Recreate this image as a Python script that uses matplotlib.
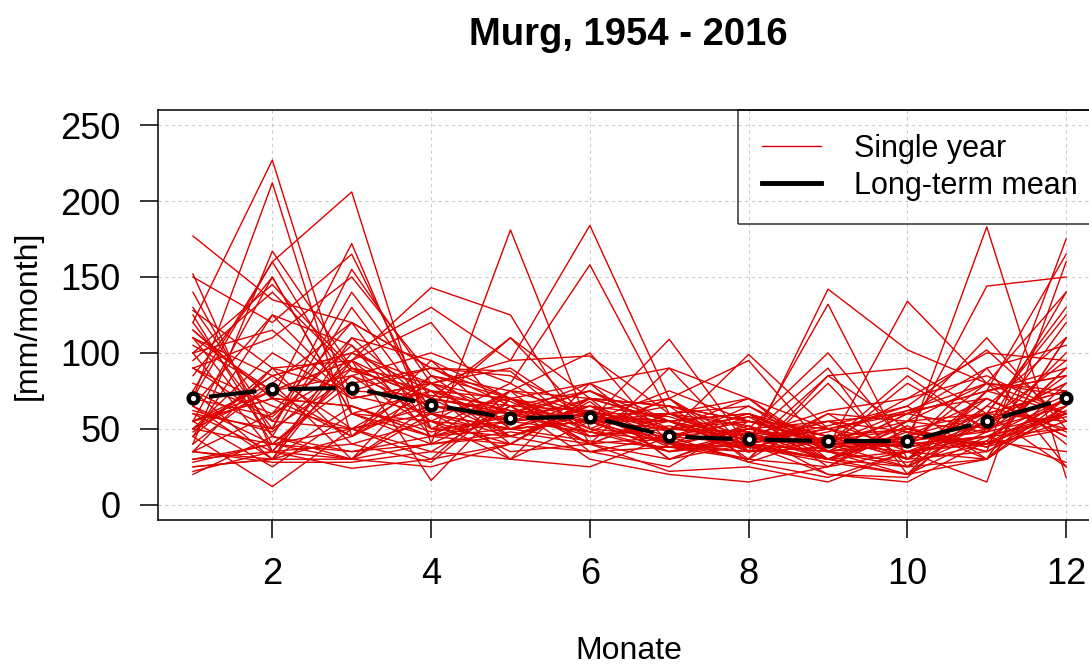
import numpy as np
import matplotlib.pyplot as plt
from matplotlib.lines import Line2D

# monthly precipitation at the Murg gauge, mm/month, one row per year (Jan..Dec)
months = np.arange(1, 13)
years = list(range(1954, 2017))
precip = [
    [62, 48, 95, 70, 45, 60, 38, 52, 30, 25, 48, 85],
    [120, 227, 60, 45, 50, 70, 55, 40, 35, 28, 40, 62],
    [45, 12, 50, 80, 60, 48, 70, 35, 42, 50, 38, 55],
    [35, 90, 40, 55, 40, 35, 45, 60, 45, 30, 55, 68],
    [95, 140, 88, 75, 62, 55, 40, 38, 48, 65, 30, 110],
    [152, 35, 30, 60, 35, 40, 22, 25, 15, 35, 42, 90],
    [55, 70, 65, 48, 58, 75, 50, 45, 40, 62, 70, 48],
    [70, 212, 45, 85, 50, 65, 42, 30, 25, 55, 60, 75],
    [80, 60, 120, 90, 70, 48, 35, 40, 30, 20, 45, 58],
    [25, 30, 110, 65, 55, 60, 40, 58, 45, 38, 90, 25],
    [30, 40, 85, 50, 45, 35, 38, 30, 60, 55, 48, 60],
    [110, 85, 100, 130, 95, 98, 60, 45, 90, 20, 75, 165],
    [65, 125, 72, 60, 50, 55, 75, 55, 42, 70, 100, 95],
    [75, 160, 206, 40, 181, 50, 35, 42, 55, 48, 38, 70],
    [128, 90, 75, 72, 65, 62, 48, 99, 50, 30, 35, 60],
    [50, 100, 70, 80, 68, 45, 52, 40, 20, 18, 65, 50],
    [90, 110, 150, 85, 75, 70, 55, 35, 38, 40, 80, 72],
    [22, 35, 24, 30, 40, 68, 30, 48, 20, 15, 42, 35],
    [28, 40, 30, 40, 48, 40, 60, 38, 30, 35, 45, 28],
    [55, 80, 30, 85, 70, 50, 45, 28, 45, 50, 60, 55],
    [85, 150, 60, 40, 45, 62, 40, 50, 38, 134, 80, 140],
    [140, 45, 130, 60, 50, 42, 38, 35, 60, 30, 70, 45],
    [90, 65, 50, 35, 30, 25, 45, 40, 55, 60, 75, 90],
    [100, 145, 90, 70, 62, 58, 55, 60, 25, 35, 55, 80],
    [60, 50, 155, 80, 90, 55, 60, 42, 40, 25, 30, 110],
    [48, 85, 100, 75, 55, 60, 40, 38, 30, 45, 144, 150],
    [70, 58, 105, 45, 60, 80, 90, 35, 38, 80, 50, 72],
    [115, 70, 172, 50, 55, 70, 65, 30, 85, 90, 60, 130],
    [100, 35, 90, 70, 60, 65, 50, 48, 40, 85, 48, 120],
    [105, 75, 95, 143, 125, 40, 30, 50, 55, 35, 30, 65],
    [90, 55, 50, 65, 110, 55, 35, 45, 62, 70, 85, 60],
    [50, 40, 80, 90, 65, 75, 48, 38, 28, 20, 60, 75],
    [65, 30, 95, 120, 55, 48, 42, 65, 40, 42, 48, 100],
    [55, 75, 85, 100, 80, 158, 60, 52, 35, 40, 45, 50],
    [150, 120, 165, 60, 45, 62, 50, 55, 42, 38, 50, 65],
    [25, 30, 45, 95, 50, 55, 35, 48, 30, 52, 30, 70],
    [40, 167, 90, 55, 30, 80, 38, 42, 50, 60, 75, 60],
    [75, 30, 65, 45, 40, 70, 55, 35, 45, 30, 65, 110],
    [35, 60, 90, 80, 45, 65, 58, 42, 52, 65, 102, 55],
    [65, 40, 50, 60, 50, 55, 109, 38, 85, 50, 35, 175],
    [130, 55, 110, 95, 70, 40, 45, 50, 100, 38, 45, 70],
    [177, 135, 120, 50, 75, 100, 40, 30, 80, 25, 55, 80],
    [30, 35, 40, 28, 70, 60, 55, 60, 40, 45, 70, 45],
    [20, 45, 35, 45, 55, 62, 70, 28, 18, 35, 40, 90],
    [55, 25, 60, 75, 30, 55, 40, 35, 142, 102, 80, 60],
    [70, 160, 75, 90, 85, 60, 45, 55, 50, 40, 60, 125],
    [45, 125, 105, 60, 70, 55, 65, 50, 42, 55, 110, 50],
    [75, 50, 140, 70, 60, 45, 55, 40, 132, 30, 55, 95],
    [55, 150, 60, 55, 80, 50, 70, 95, 35, 60, 90, 105],
    [125, 40, 35, 40, 65, 30, 20, 15, 25, 50, 40, 70],
    [120, 50, 85, 65, 60, 55, 50, 70, 30, 48, 35, 65],
    [50, 75, 45, 75, 70, 40, 60, 65, 35, 20, 30, 80],
    [40, 80, 120, 90, 88, 45, 50, 58, 30, 45, 40, 60],
    [110, 75, 95, 16, 70, 80, 55, 60, 35, 25, 75, 85],
    [60, 35, 100, 80, 40, 70, 65, 55, 45, 40, 45, 60],
    [45, 90, 95, 55, 50, 55, 55, 45, 30, 55, 80, 75],
    [50, 85, 50, 30, 75, 60, 60, 70, 50, 30, 75, 85],
    [35, 30, 30, 25, 40, 70, 65, 55, 40, 35, 15, 160],
    [110, 45, 30, 65, 60, 75, 55, 40, 35, 60, 50, 140],
    [55, 70, 45, 70, 110, 70, 30, 40, 50, 62, 80, 40],
    [35, 28, 28, 35, 65, 40, 90, 70, 35, 45, 40, 50],
    [115, 70, 65, 45, 75, 35, 25, 55, 40, 40, 183, 18],
    [100, 115, 70, 80, 95, 184, 70, 40, 30, 45, 60, 25],
]
long_term_mean = [70, 76, 77, 66, 57, 58, 45, 43, 42, 42, 55, 70]

plt.rcParams["font.family"] = "Liberation Sans"

fig = plt.figure(figsize=(10.89, 6.68), dpi=100)
ax = fig.add_axes([0.1451, 0.2216, 0.866, 0.6138])
ax.set_xlim(0.56, 12.44)
ax.set_ylim(-10, 260)

for row in precip:
    ax.plot(months, row, color="#dd0000", lw=1.0, zorder=2)

# mean curve drawn like R's type="b": segments stop short of each point
pts = ax.transData.transform(np.column_stack([months, long_term_mean]))
inv = ax.transData.inverted()
gap = 16
for p, q in zip(pts[:-1], pts[1:]):
    d = q - p
    u = d / np.hypot(*d)
    a = inv.transform(p + u * gap)
    b = inv.transform(q - u * gap)
    ax.plot([a[0], b[0]], [a[1], b[1]], color="black", lw=3,
            solid_capstyle="butt", zorder=3)
ax.plot(months, long_term_mean, ls="none", marker="o", ms=7, mew=3.2,
        mec="black", mfc="white", zorder=4)

ax.set_xticks([2, 4, 6, 8, 10, 12])
ax.set_yticks([0, 50, 100, 150, 200, 250])
ax.tick_params(length=13, width=1.1, labelsize=26, pad=14, direction="out")
ax.grid(True, color="#cccccc", ls=(0, (3, 3)), lw=0.8)
ax.set_axisbelow(True)
for s in ax.spines.values():
    s.set_linewidth(1.1)

handles = [Line2D([], [], color="#dd0000", lw=1.0),
           Line2D([], [], color="black", lw=3.5)]
leg = ax.legend(handles, ["Single year", "Long-term mean"], loc="upper right",
                bbox_to_anchor=(1, 1), borderaxespad=0, fontsize=22,
                handlelength=1.95, handletextpad=1.05, borderpad=0.78,
                labelspacing=0.22, fancybox=False, edgecolor="black",
                facecolor="none", framealpha=None)
leg.get_frame().set_linewidth(1.1)

fig.text(628 / 1089, 1 - 35 / 668, "Murg, 1954 - 2016", ha="center",
         va="center", fontsize=27.5, fontweight="bold")
fig.text(28 / 1089, 1 - 315 / 668, "[mm/month]", ha="center", va="center",
         rotation=90, fontsize=23)
fig.text(629 / 1089, 1 - 651 / 668, "Monate", ha="center", va="center",
         fontsize=23)

fig.savefig("out.png", dpi=100)
